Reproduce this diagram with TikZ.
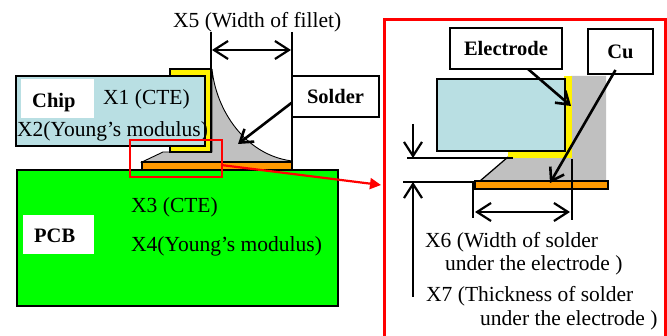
\documentclass[tikz,border=0pt]{standalone}
\usepackage{fontspec}
\setmainfont{Liberation Serif}
\usetikzlibrary{arrows.meta}
\definecolor{chipblue}{RGB}{185,223,227}
\definecolor{pcbgreen}{RGB}{0,255,0}
\definecolor{cuorange}{RGB}{255,153,0}
\definecolor{soldergray}{RGB}{192,192,192}
\begin{document}
\begin{tikzpicture}[x=1pt,y=-1pt,
  lbl/.style={anchor=base west, inner sep=0pt, font=\fontsize{21.5}{25}\selectfont},
  blbl/.style={anchor=base west, inner sep=0pt, font=\fontsize{20.5}{25}\selectfont\bfseries},
  rect/.style={anchor=north west, inner sep=0pt, outer sep=0pt},
  box/.style={rect, draw, fill=white, line width=1.3pt, font=\fontsize{20.5}{25}\selectfont\bfseries},
  barb/.tip={Straight Barb[length=14pt,width=18pt]},
  dimarr/.style={line width=2.2pt, barb-barb},
  ptr/.style={line width=2.6pt, -{Straight Barb[length=12pt,width=16pt]}},
  ext/.style={line width=1.3pt},
]
\useasboundingbox (0,0) rectangle (667,336);

% ---------------- left: overall view ----------------
\node[rect, draw, line width=1.3pt, fill=pcbgreen, minimum width=321pt, minimum height=136pt] (pcb) at (17,170) {};
\node[rect, fill=white, minimum width=71pt, minimum height=39pt] (pcbw) at (23,215) {};
\node[blbl] (pcbt) at (34,243) {PCB};
\node[lbl] (x3) at (131,213) {X3 (CTE)};
\node[lbl] (x4) at (131,252) {X4(Young’s modulus)};

% solder fillet
\draw[fill=soldergray, line width=0.9pt] (212,69) .. controls (216,110) and (245,155) .. (292,161)
  -- (292,162) -- (142,162) -- (163,152) -- (212,152) -- cycle;
% electrode
\node[rect, draw, line width=1.1pt, fill=yellow, minimum width=41pt, minimum height=83pt] (elL) at (170,69) {};
% chip
\node[rect, draw, line width=1.4pt, fill=chipblue, minimum width=189pt, minimum height=70pt] (chip) at (16,76) {};
\node[rect, fill=white, minimum width=73pt, minimum height=39pt] (chipw) at (21,79) {};
\node[blbl] (chipt) at (32,108) {Chip};
\node[lbl] (x1) at (103,105) {X1 (CTE)};
\node[lbl] (x2) at (17,137) {X2(Young’s modulus)};
% copper pad
\node[rect, draw, line width=1.1pt, fill=cuorange, minimum width=150pt, minimum height=8pt] (padL) at (142,162) {};

% fillet width dimension
\coordinate (e1t) at (211,32); \coordinate (e1b) at (211,69);
\coordinate (e2t) at (292,32); \coordinate (e2b) at (292,162);
\draw[ext] (e1t) -- (e1b);
\draw[ext] (e2t) -- (e2b);
\coordinate (d5a) at (212,50); \coordinate (d5b) at (291,50);
\draw[dimarr] (d5a) -- (d5b);
\node[lbl] (x5) at (173,28) {X5 (Width of fillet)};

% solder label
\node[box, minimum width=87pt, minimum height=41pt] (solder) at (292,76) {Solder};
\coordinate (solderTip) at (238,144);
\draw[ptr] (solder.west) ++(0,6) -- (solderTip);

% zoom marker
\node[rect, draw=red, line width=2pt, minimum width=92pt, minimum height=37pt] (zoomr) at (130,140) {};
\coordinate (zoomTip) at (381,185);
\draw[red, line width=2.2pt, -{Triangle[length=11pt,width=11pt]}] (221,165) -- (zoomTip);

% ---------------- right: detail ----------------
\node[rect, draw=red, line width=3pt, minimum width=281pt, minimum height=330pt] (panel) at (384.5,20) {};

% solder (detail)
\fill[soldergray] (508,158) -- (571,158) -- (571,76) -- (606,76) -- (606,181) -- (480,181) -- cycle;
\coordinate (slA) at (480,181); \coordinate (slB) at (508,157);
\draw[line width=1.3pt] (slA) -- (slB);
% electrode (detail)
\fill[yellow] (564,76) rectangle (572,158);
\fill[yellow] (508,151) rectangle (572,158);
% chip (detail)
\node[rect, draw, line width=1.4pt, fill=chipblue, minimum width=128pt, minimum height=72pt] (chipR) at (437,79) {};
% pad (detail)
\node[rect, draw, line width=1.1pt, fill=cuorange, minimum width=133pt, minimum height=8pt] (padR) at (475,181) {};

% X7 extension lines and arrows
\coordinate (h1a) at (407,158); \coordinate (h1b) at (513,158);
\coordinate (h2a) at (403,182); \coordinate (h2b) at (475,182);
\draw[ext] (h1a) -- (h1b);
\draw[ext] (h2a) -- (h2b);
\coordinate (a7t) at (413,124); \coordinate (a7tt) at (413,158);
\coordinate (a7b) at (413,297); \coordinate (a7bt) at (413,182);
\draw[line width=2.2pt, -barb] (a7t) -- (a7tt);
\draw[line width=2.2pt, -barb] (a7b) -- (a7bt);

% X6 extension lines and arrow
\coordinate (v1t) at (473,182); \coordinate (v1b) at (473,218);
\coordinate (v2t) at (572,159); \coordinate (v2b) at (572,220);
\draw[ext] (v1t) -- (v1b);
\draw[ext] (v2t) -- (v2b);
\coordinate (d6a) at (475,212); \coordinate (d6b) at (570,212);
\draw[dimarr] (d6a) -- (d6b);

% labels (detail)
\node[box, minimum width=112pt, minimum height=41pt] (electrode) at (450,28) {Electrode};
\node[box, minimum width=65pt, minimum height=45pt] (cu) at (588,29) {Cu};
\coordinate (elTip) at (571,106);
\coordinate (cuTip) at (550,183);
\draw[ptr] (electrode.south) ++(22,0) -- (elTip);
\draw[ptr] (cu.south) ++(-5,-4) -- (cuTip);

\node[lbl] (x6a) at (425,248) {X6 (Width of solder};
\node[lbl] (x6b) at (445,271) {under the electrode )};
\node[lbl] (x7a) at (426,302) {X7 (Thickness of solder};
\node[lbl] (x7b) at (480,326) {under the electrode )};
\end{tikzpicture}
\end{document}
